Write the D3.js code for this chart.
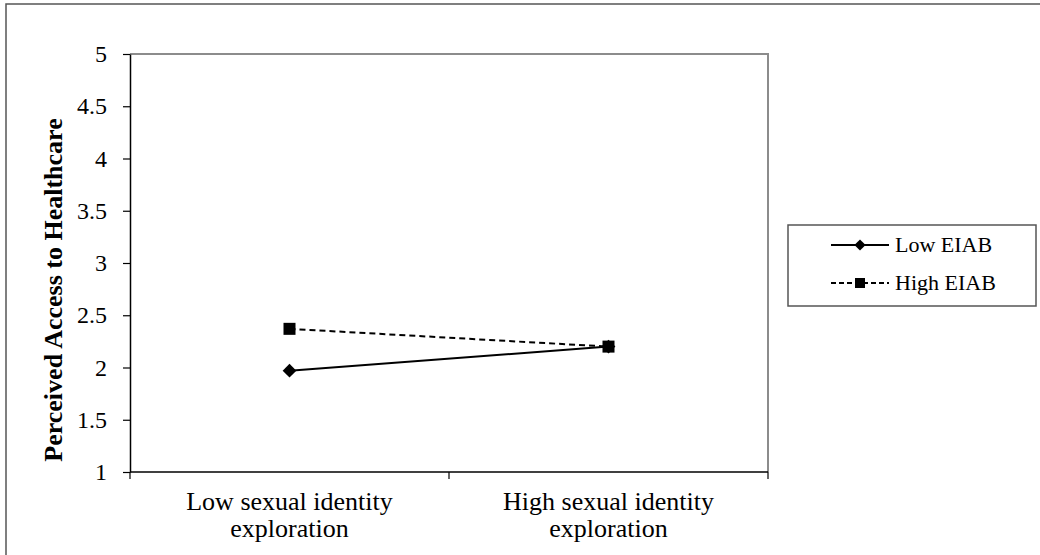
<!DOCTYPE html>
<html>
<head>
<meta charset="utf-8">
<script src="https://cdn.jsdelivr.net/npm/d3@7"></script>
<style>
  body { margin: 0; background: #fff; }
  text { font-family: "Liberation Serif", "Times New Roman", serif; }
</style>
</head>
<body>
<div id="viz"></div>
<script>
const width = 1040;
const height = 555;
const margin = {top: 54, right: 272, bottom: 83, left: 130};

const categories = ['Low sexual identity exploration', 'High sexual identity exploration'];
const categoryLines = [['Low sexual identity', 'exploration'], ['High sexual identity', 'exploration']];
const seriesNames = ['Low EIAB', 'High EIAB'];
const lowEIAB = [1.97, 2.20];
const highEIAB = [2.37, 2.20];
const yTicks = [1, 1.5, 2, 2.5, 3, 3.5, 4, 4.5, 5];

const svg = d3.select('#viz')
    .append('svg')
        .attr('width', width)
        .attr('height', height);

// outer frame (only left/top visible in the original)
svg.append('rect')
    .attr('x', 6).attr('y', 4)
    .attr('width', width).attr('height', height)
    .attr('fill', 'none')
    .attr('stroke', '#555')
    .attr('stroke-width', 1.5);

const x = d3.scaleBand()
    .domain(categories)
    .range([margin.left, width - margin.right]);
const y = d3.scaleLinear()
    .domain([1, 5])
    .range([height - margin.bottom, margin.top]);

// plot area border (top + right gray)
svg.append('path')
    .attr('d', `M${margin.left},${margin.top}H${width - margin.right}V${height - margin.bottom}`)
    .attr('fill', 'none')
    .attr('stroke', '#8c8c8c')
    .attr('stroke-width', 2);

// Y axis
const yAxis = svg.append('g')
    .attr('transform', `translate(${margin.left},0)`)
    .call(d3.axisLeft(y).tickValues(yTicks).tickFormat(d3.format('')).tickSize(7).tickSizeOuter(0).tickPadding(16));
yAxis.select('.domain').attr('stroke', '#000').attr('stroke-width', 1.5);
yAxis.selectAll('.tick line').attr('stroke', '#000').attr('stroke-width', 1.2);
yAxis.selectAll('.tick text')
    .attr('fill', '#000')
    .style('font-size', '24px')
    .style('font-family', '"Liberation Serif", serif');

// X axis with ticks between categories
const xBoundaries = [margin.left, ...categories.map(c => x(c) + x.bandwidth())];
const xAxis = svg.append('g')
    .attr('transform', `translate(0,${height - margin.bottom})`);
xAxis.append('line')
    .attr('x1', margin.left).attr('x2', width - margin.right)
    .attr('stroke', '#000').attr('stroke-width', 1.5);
xAxis.selectAll('.xtick')
    .data(xBoundaries)
    .join('line')
        .attr('x1', d => d).attr('x2', d => d)
        .attr('y1', 0).attr('y2', 7)
        .attr('stroke', '#000').attr('stroke-width', 1.2);
xAxis.selectAll('.xlabel')
    .data(categories)
    .join('text')
        .attr('text-anchor', 'middle')
        .attr('x', d => x(d) + x.bandwidth() / 2)
        .attr('y', 38)
        .style('font-size', '26px')
        .attr('fill', '#000')
    .selectAll('tspan')
    .data((d, i) => categoryLines[i])
    .join('tspan')
        .attr('x', function() { return this.parentNode.getAttribute('x'); })
        .attr('dy', (d, i) => i === 0 ? 0 : 27)
        .text(d => d);

// Y axis title
svg.append('text')
    .attr('transform', `translate(62,290) rotate(-90)`)
    .attr('text-anchor', 'middle')
    .style('font-size', '26px')
    .style('font-weight', 'bold')
    .attr('fill', '#000')
    .text('Perceived Access to Healthcare');

const cx = d => x(d) + x.bandwidth() / 2;
const line = d3.line()
    .x((d, i) => cx(categories[i]))
    .y(d => y(d));

svg.append('path')
    .attr('d', line(lowEIAB))
    .attr('fill', 'none')
    .attr('stroke', '#000')
    .attr('stroke-width', 2);
svg.append('path')
    .attr('d', line(highEIAB))
    .attr('fill', 'none')
    .attr('stroke', '#000')
    .attr('stroke-width', 2)
    .attr('stroke-dasharray', '6,4');

const diamond = d3.symbol().type(d3.symbolDiamond2).size(120);
svg.selectAll('.lowpt')
    .data(lowEIAB)
    .join('path')
        .attr('transform', (d, i) => `translate(${cx(categories[i])},${y(d)})`)
        .attr('d', diamond)
        .attr('fill', '#000');
svg.selectAll('.highpt')
    .data(highEIAB)
    .join('rect')
        .attr('x', (d, i) => cx(categories[i]) - 6)
        .attr('y', d => y(d) - 6)
        .attr('width', 12).attr('height', 12)
        .attr('fill', '#000');

// Legend
const legend = svg.append('g');
legend.append('rect')
    .attr('x', 788).attr('y', 225)
    .attr('width', 248).attr('height', 81)
    .attr('fill', '#fff')
    .attr('stroke', '#555')
    .attr('stroke-width', 1.5);
const rows = [245, 283];
seriesNames.forEach((name, i) => {
    const ly = rows[i];
    legend.append('line')
        .attr('x1', 831).attr('x2', 889)
        .attr('y1', ly).attr('y2', ly)
        .attr('stroke', '#000')
        .attr('stroke-width', 2)
        .attr('stroke-dasharray', i === 1 ? '5,3' : null);
    if (i === 0) {
        legend.append('path')
            .attr('transform', `translate(860,${ly})`)
            .attr('d', d3.symbol().type(d3.symbolDiamond2).size(80))
            .attr('fill', '#000');
    } else {
        legend.append('rect')
            .attr('x', 855).attr('y', ly - 5)
            .attr('width', 10).attr('height', 10)
            .attr('fill', '#000');
    }
    legend.append('text')
        .attr('x', 895).attr('y', ly + 7)
        .style('font-size', '22px')
        .attr('fill', '#000')
        .text(name);
});
</script>
</body>
</html>
